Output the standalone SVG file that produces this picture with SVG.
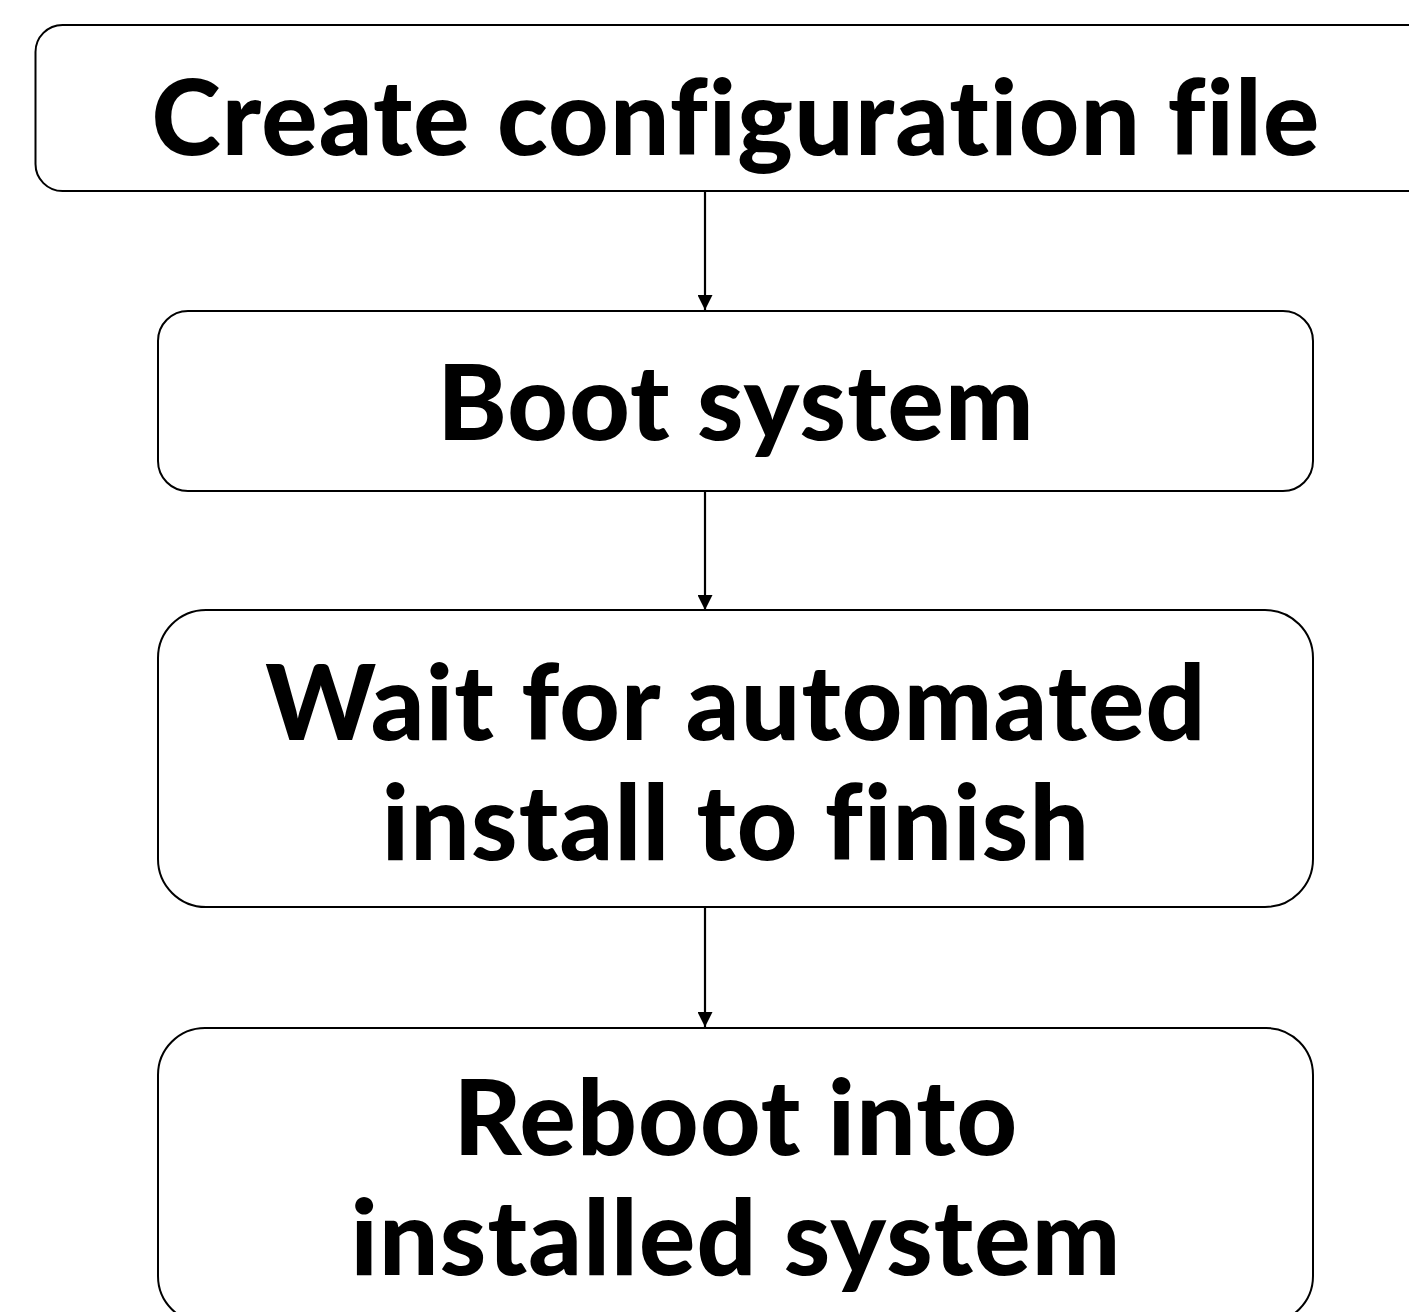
<svg xmlns="http://www.w3.org/2000/svg" width="1409" height="1312" viewBox="0 0 1409 1312">
<style>
.box{fill:#fff;stroke:#000;stroke-width:2}
.lbl{font-family:Lato,"Noto Sans",sans-serif;font-weight:900;font-size:105px;letter-spacing:1.2px;fill:#000;text-anchor:middle;font-variant-ligatures:none;font-feature-settings:"liga" 0}
.edge{stroke:#000;stroke-width:2.2;fill:none}
</style>
<defs>
<marker id="ah" markerWidth="15" markerHeight="15" refX="15" refY="7.5" orient="auto" markerUnits="userSpaceOnUse">
<path d="M0,0 L15,7.5 L0,15 Z" fill="#000"/>
</marker>
</defs>
<rect width="1409" height="1312" fill="#fff"/>
<g id="connectors">
<line class="edge" x1="705" y1="191" x2="705" y2="310" marker-end="url(#ah)"/>
<line class="edge" x1="705" y1="491" x2="705" y2="610" marker-end="url(#ah)"/>
<line class="edge" x1="705" y1="907" x2="705" y2="1027" marker-end="url(#ah)"/>
</g>
<g id="n1">
<rect class="box" x="35.5" y="25" width="1400" height="166" rx="27"/>
<text class="lbl" x="736" y="155">Create configuration file</text>
</g>
<g id="n2">
<rect class="box" x="158" y="311" width="1155" height="180" rx="30"/>
<text class="lbl" x="736" y="440">Boot system</text>
</g>
<g id="n3">
<rect class="box" x="158" y="610" width="1155" height="297" rx="48"/>
<text class="lbl" x="736" y="740">Wait for automated</text>
<text class="lbl" x="736" y="860">install to finish</text>
</g>
<g id="n4">
<rect class="box" x="158" y="1028" width="1155" height="295" rx="47"/>
<text class="lbl" x="736" y="1155">Reboot into</text>
<text class="lbl" x="736" y="1275">installed system</text>
</g>
</svg>
